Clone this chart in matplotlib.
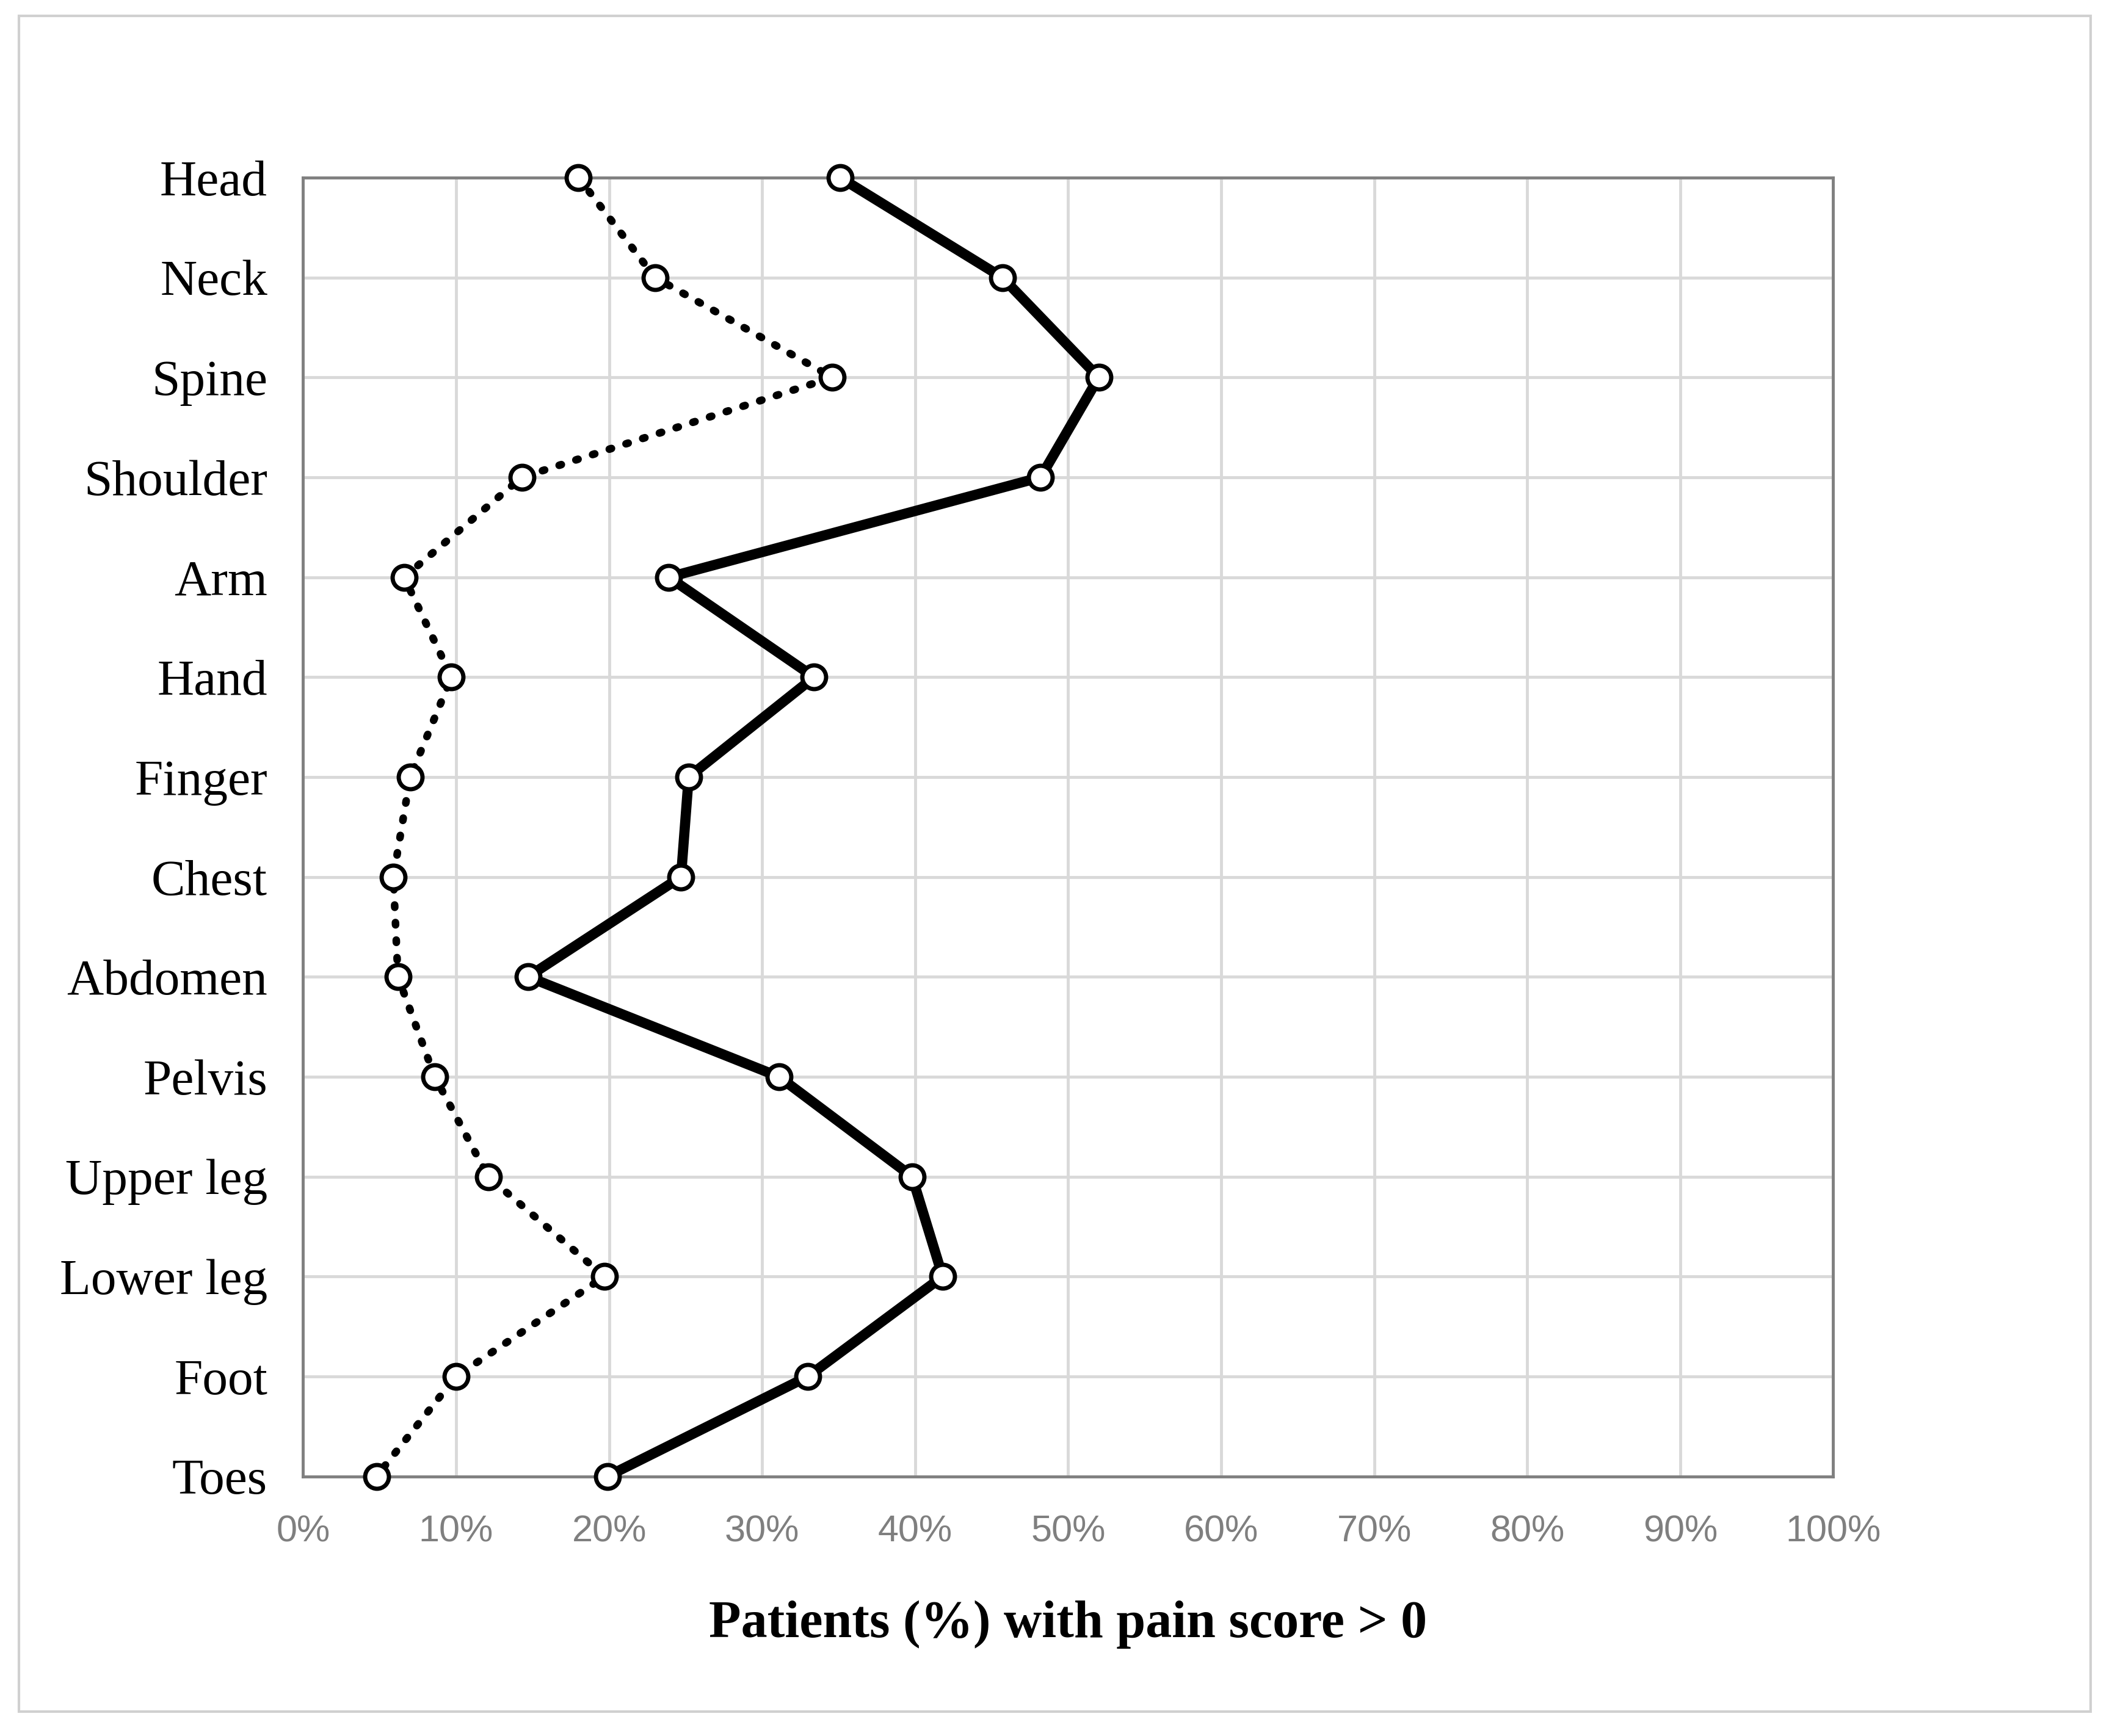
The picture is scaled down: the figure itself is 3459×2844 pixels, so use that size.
import matplotlib
matplotlib.use("Agg")
import matplotlib.pyplot as plt
from matplotlib.patches import Rectangle

categories = ["Head","Neck","Spine","Shoulder","Arm","Hand","Finger","Chest","Abdomen",
              "Pelvis","Upper leg","Lower leg","Foot","Toes"]
solid_vals = [35.1,45.7,52.0,48.2,23.9,33.4,25.2,24.7,14.7,31.1,39.8,41.8,33.0,19.9]
dotted_vals = [18.0,23.0,34.6,14.3,6.6,9.7,7.0,5.9,6.2,8.6,12.1,19.7,10.0,4.8]
xticks = list(range(0,101,10))

fig = plt.figure(figsize=(34.59,28.44), dpi=100)
fig.patches.append(Rectangle((0.009,0.014),0.981,0.977, transform=fig.transFigure,
                             fill=False, edgecolor="#d0d0d0", linewidth=3))
ax = fig.add_axes([0.1435,0.1496,0.7245,0.7481])
y = list(range(len(categories)))
ax.plot(dotted_vals, y, color="black", lw=9, ls=(0,(0.3,2.0)), dash_capstyle="round",
        marker="o", ms=28, mfc="white", mec="black", mew=5, zorder=3, clip_on=False)
ax.plot(solid_vals, y, color="black", lw=12, marker="o", ms=28, mfc="white",
        mec="black", mew=5, zorder=4, clip_on=False)
ax.set_xlim(0,100)
ax.set_ylim(len(categories)-1,0)
ax.set_yticks(y)
ax.set_yticklabels(categories, fontfamily="Liberation Serif", fontsize=60)
ax.set_xticks(xticks)
ax.set_xticklabels([f"{t}%" for t in xticks], fontfamily="Liberation Sans", fontsize=44, color="#7f7f7f")
ax.tick_params(axis="y", length=0, pad=42)
ax.tick_params(axis="x", length=0, pad=45)
ax.grid(True, color="#d9d9d9", lw=3.5)
ax.set_axisbelow(True)
for s in ax.spines.values():
    s.set_color("#808080"); s.set_linewidth(3.5)
ax.set_xlabel("Patients (%) with pain score > 0", fontfamily="Liberation Serif",
              fontsize=62, fontweight="bold", labelpad=60)
fig.savefig("out.png", dpi=100)
